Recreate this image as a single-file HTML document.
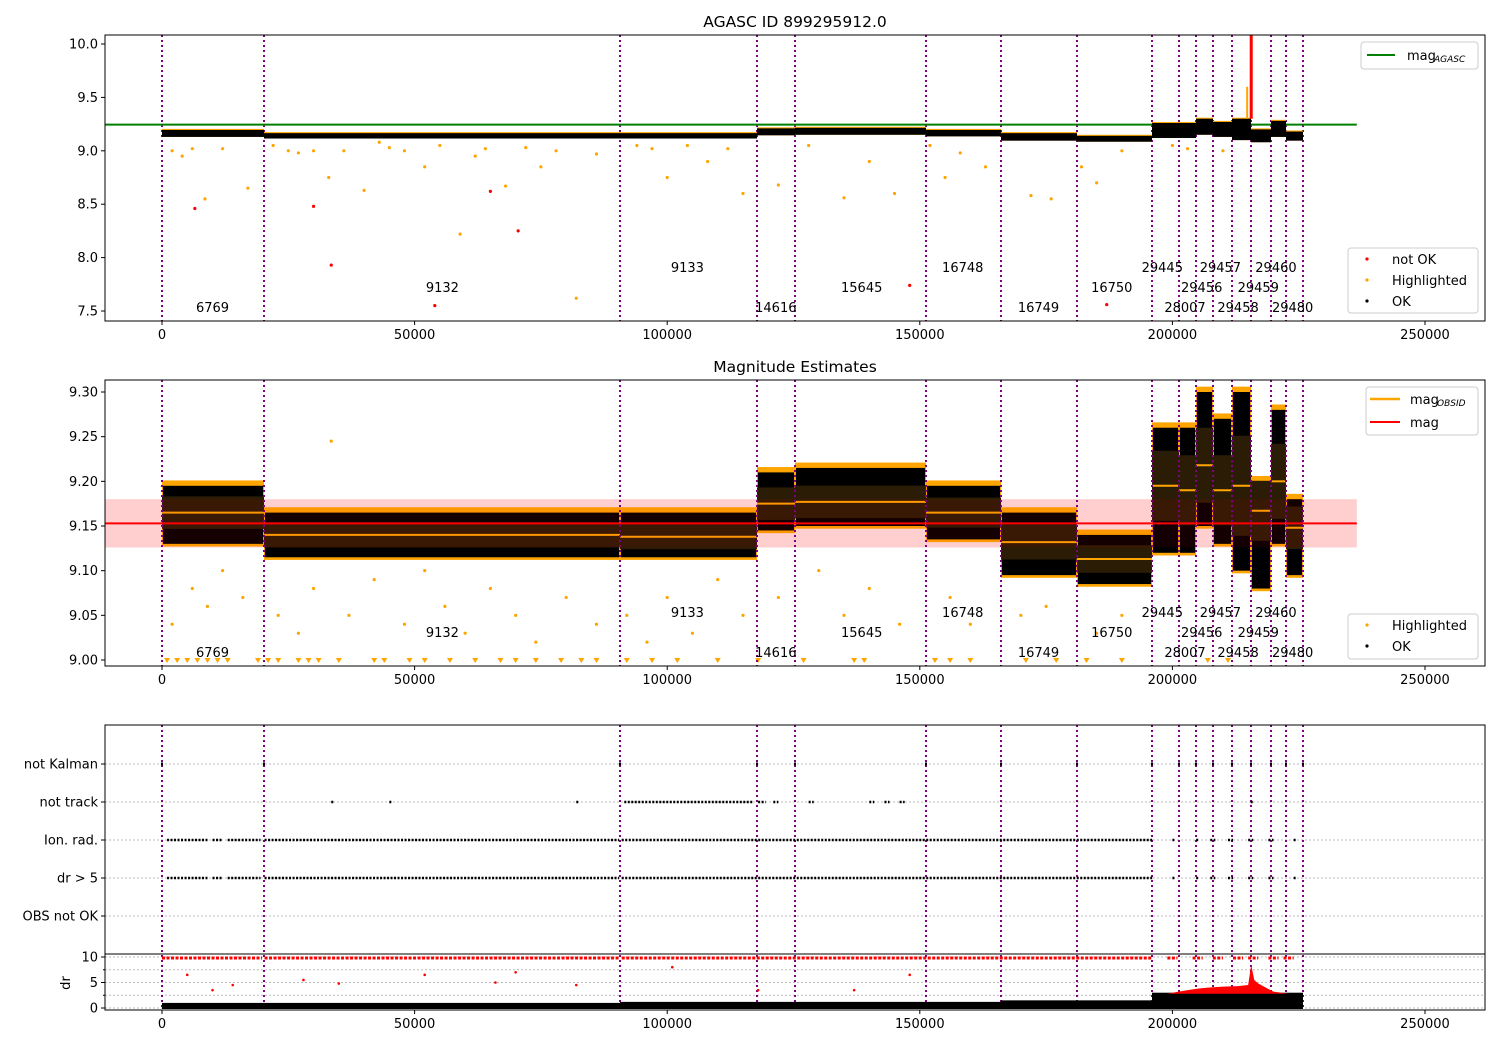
<!DOCTYPE html>
<html><head><meta charset="utf-8"><style>
body{margin:0;background:#fff}
svg{display:block;font-family:"DejaVu Sans","Liberation Sans",sans-serif}
</style></head><body>
<svg id="chart" width="1500" height="1050" viewBox="0 0 1500 1050" xmlns="http://www.w3.org/2000/svg">
<g id="base"></g>
</svg>
<script>
// ---------- data ----------
const obsLines=[0,20190,90657,117775,125297,151227,166072,181116,195962,201306,204671,208036,211797,215558,219516,222486,225851];
const segMeans=[9.165,9.14,9.138,9.175,9.177,9.165,9.132,9.113,9.195,9.19,9.218,9.19,9.195,9.167,9.2,9.148];
const segLo=[9.13,9.115,9.115,9.145,9.15,9.135,9.095,9.085,9.12,9.12,9.15,9.13,9.10,9.08,9.13,9.095];
const segHi=[9.195,9.165,9.165,9.21,9.215,9.195,9.165,9.14,9.26,9.26,9.30,9.27,9.30,9.2,9.28,9.18];
const obsLabels=["6769","9132","9133","14616","15645","16748","16749","16750","29445","28007","29456","29457","29458","29459","29460","29480"];
const labelX=[10000,55500,104000,121500,138500,158500,173500,188000,198000,202500,205800,209500,213000,217000,220500,223800];
const labelRow=[2,1,0,2,1,0,2,1,0,2,1,0,2,1,0,2];
const magAgasc=9.245, magMean=9.153, magLo=9.126, magHi=9.18, lineEnd=236500;
const hl1X=[2000,4000,6000,8500,12000,17000,22000,25000,27000,30000,33000,36000,40000,43000,45000,48000,52000,55000,59000,62000,64000,68000,72000,75000,78000,82000,86000,94000,97000,100000,104000,108000,112000,115000,122000,128000,135000,140000,145000,152000,155000,158000,163000,172000,176000,182000,185000,190000,200000,203000,210000];
const hl1Y=[9.0,8.95,9.02,8.55,9.02,8.65,9.05,9.0,8.98,9.0,8.75,9.0,8.63,9.08,9.03,9.0,8.85,9.05,8.22,8.95,9.02,8.67,9.03,8.85,9.0,7.62,8.97,9.05,9.02,8.75,9.05,8.9,9.02,8.6,8.68,9.05,8.56,8.9,8.6,9.05,8.75,8.98,8.85,8.58,8.55,8.85,8.7,9.0,9.05,9.02,9.0];
const bad1X=[6500,30000,33500,54000,65000,70500,148000,187000];
const bad1Y=[8.46,8.48,7.93,7.55,8.62,8.25,7.74,7.56];
const hl2X=[2000,6000,9000,12000,16000,23000,27000,30000,33500,37000,42000,48000,52000,56000,60000,65000,70000,74000,80000,86000,92000,96000,100000,105000,110000,115000,122000,130000,135000,140000,146000,156000,160000,170000,175000,185000,190000];
const hl2Y=[9.04,9.08,9.06,9.1,9.07,9.05,9.03,9.08,9.245,9.05,9.09,9.04,9.1,9.06,9.03,9.08,9.05,9.02,9.07,9.04,9.05,9.02,9.07,9.03,9.09,9.05,9.07,9.1,9.05,9.08,9.04,9.07,9.04,9.05,9.06,9.03,9.05];
const tri2X=[1000,3000,5000,7000,9000,11000,13000,19000,21000,23000,27000,29000,31000,35000,42000,44000,49000,52000,57000,62000,67000,70000,74000,79000,83000,86000,92000,97000,102000,110000,118000,127000,137000,139000,153000,156000,160000,171000,177000,183000,190000,207000,211000];
const catNames=["not Kalman","not track","Ion. rad.","dr > 5","OBS not OK"];
const trackRanges=[[91500,117000],[33500,33800],[45000,45300],[82000,82300],[118000,119500],[121000,122000],[128000,129000],[140000,141000],[143000,144000],[146000,147000],[215500,215800]];
const ionRanges=[[1000,9000],[10000,12000],[13000,19500],[20300,90500],[91000,196000],[200000,200300],[204700,205000],[207500,208500],[211000,212000],[215000,216000],[219000,220000],[224000,224300]];
const drHiRanges=[[0,19800],[20300,90500],[91000,196000],[199000,201000],[204000,206000],[208000,210000],[212000,214000],[215000,217000],[219000,221000],[222000,224000]];
const drBandStart=[0,20190,90657,117775,166072,195962];
const drBandEnd=[20190,90657,117775,166072,195962,225851];
const drBandTop=[1.0,1.0,1.2,1.2,1.5,3.0];
const drRedX=[200000,203000,205000,207000,210000,213000,215000,215600,216200,217000,220000,223000];
const drRedY=[3.0,3.5,3.8,4.0,4.2,4.3,4.5,8.5,5.5,4.8,3.2,2.8];
const drOutX=[5000,10000,14000,28000,35000,52000,66000,70000,82000,101000,118000,137000,148000];
const drOutY=[6.5,3.5,4.5,5.5,4.8,6.5,5.0,7.0,4.5,8.0,3.5,3.5,6.5];

// ---------- helpers ----------
const NS="http://www.w3.org/2000/svg";
const root=document.getElementById('base');
function el(tag,attrs,parent,txt){const e=document.createElementNS(NS,tag);for(const k in attrs)e.setAttribute(k,attrs[k]);if(txt!==undefined)e.textContent=txt;(parent||root).appendChild(e);return e;}
const X=v=>162+v*0.0050520;
const Y1=v=>44+(10-v)*106.8;
const Y2=v=>392+(9.3-v)*893.3;
const YD=v=>1008-v*5.1;
const CY=[764,802,840,878,916];
const L=105,R=1485;
const panels=[[35,321],[380,666],[725,1010]];

const defs=el('defs',{});
panels.forEach((p,i)=>{const c=el('clipPath',{id:'clip'+i},defs);el('rect',{x:L,y:p[0],width:R-L,height:p[1]-p[0]},c);});

function xAxis(p){
  [0,50000,100000,150000,200000,250000].forEach(t=>{
    el('line',{x1:X(t),x2:X(t),y1:p[1],y2:p[1]+4,stroke:'#000'});
    const tl=el('text',{x:X(t),y:p[1]+18,'text-anchor':'middle','font-size':13},root,String(t));
    
    
  });
}
function yTick(y,label){
  el('line',{x1:L-4,x2:L,y1:y,y2:y,stroke:'#000'});
  const t=el('text',{x:L-7,y:y+4.5,'text-anchor':'end','font-size':13},root,label);
  
  
}
function vlines(g,p){
  obsLines.forEach(v=>{
    const ln=el('line',{x1:X(v),x2:X(v),y1:p[0],y2:p[1],stroke:'#800080','stroke-width':2,'stroke-dasharray':'2,3'},g);
    
    
  });
}
function obsText(g,ys){
  obsLabels.forEach((s,i)=>{
    const t=el('text',{x:X(labelX[i]),y:ys[labelRow[i]],'text-anchor':'middle','font-size':13},g,s);
    
    
  });
}
function frame(p,name){
  const f=el('rect',{x:L,y:p[0],width:R-L,height:p[1]-p[0],fill:'none',stroke:'#000','stroke-width':1});
  
  
}

// ---------- panel 1 ----------
const g1=el('g',{'clip-path':'url(#clip0)'});


vlines(g1,panels[0]);
el('line',{x1:L,x2:X(lineEnd),y1:Y1(magAgasc),y2:Y1(magAgasc),stroke:'#008000','stroke-width':2},g1);
hl1X.forEach((v,i)=>{const c=el('circle',{cx:X(v),cy:Y1(hl1Y[i]),r:1.6,fill:'orange'},g1);});
bad1X.forEach((v,i)=>{const c=el('circle',{cx:X(v),cy:Y1(bad1Y[i]),r:1.6,fill:'red'},g1);});
segMeans.forEach((m,i)=>{
  const x0=X(obsLines[i]),x1=X(obsLines[i+1]);
  const spread=(segHi[i]-segLo[i]);
  el('rect',{x:x0,y:Y1(segHi[i]+0.01),width:x1-x0,height:(spread+0.01)*106.8,fill:'orange'},g1);
  const b=el('rect',{x:x0,y:Y1(segHi[i]),width:x1-x0,height:spread*106.8,fill:'#000'},g1);
  
  
});
el('line',{x1:X(215600),x2:X(215600),y1:Y1(10.1),y2:Y1(9.3),stroke:'red','stroke-width':3},g1);
el('line',{x1:X(214800),x2:X(214800),y1:Y1(9.6),y2:Y1(9.3),stroke:'orange','stroke-width':2},g1);
obsText(g1,[272,292,312]);
frame(panels[0],'agasc-axes');
[7.5,8.0,8.5,9.0,9.5,10.0].forEach(v=>yTick(Y1(v),v.toFixed(1)));
xAxis(panels[0]);
let t=el('text',{x:795,y:27,'text-anchor':'middle','font-size':15.5},root,'AGASC ID 899295912.0');


let lg=el('g',{});
el('rect',{x:1361,y:42,width:117,height:27,rx:3,fill:'#fff',stroke:'#ccc'},lg);
el('line',{x1:1367,x2:1395,y1:55,y2:55,stroke:'#008000','stroke-width':2},lg);
el('text',{x:1407,y:60,'font-size':13},lg,'mag');
el('text',{x:1434,y:62,'font-size':9,'font-style':'italic'},lg,'AGASC');
lg=el('g',{});
el('rect',{x:1348,y:248,width:130,height:65,rx:3,fill:'#fff',stroke:'#ccc'},lg);
[['red','not OK',259],['orange','Highlighted',280],['#000','OK',301]].forEach(a=>{
  el('circle',{cx:1367,cy:a[2],r:1.6,fill:a[0]},lg);
  el('text',{x:1392,y:a[2]+5,'font-size':13},lg,a[1]);
});

// ---------- panel 2 ----------
const g2=el('g',{'clip-path':'url(#clip1)'});


el('rect',{x:L,y:Y2(magHi),width:X(lineEnd)-L,height:(magHi-magLo)*893.3,fill:'#ffe0e0'},g2);
hl2X.forEach((v,i)=>{const c=el('circle',{cx:X(v),cy:Y2(hl2Y[i]),r:1.6,fill:'orange'},g2);});
tri2X.forEach(v=>{const x=X(v),y=Y2(9.0)+1;const p=el('path',{d:`M${x-3},${y-3}L${x+3},${y-3}L${x},${y+2}Z`,fill:'orange'},g2);});
segMeans.forEach((m,i)=>{
  const x0=X(obsLines[i]),x1=X(obsLines[i+1]);
  el('rect',{x:x0,y:Y2(segHi[i]+0.006),width:x1-x0,height:(segHi[i]-segLo[i]+0.009)*893.3,fill:'orange'},g2);
  const b=el('rect',{x:x0+1,y:Y2(segHi[i]),width:x1-x0-2,height:(segHi[i]-segLo[i])*893.3,fill:'#000'},g2);
  
  const sd=(segHi[i]-segLo[i])*0.28;
  el('rect',{x:x0,y:Y2(m+sd),width:x1-x0,height:2*sd*893.3,fill:'#2a1c05'},g2);
  const ml=el('line',{x1:x0,x2:x1,y1:Y2(m),y2:Y2(m),stroke:'orange','stroke-width':2},g2);
  
});
el('rect',{x:L,y:Y2(magHi),width:X(lineEnd)-L,height:(magHi-magLo)*893.3,fill:'rgba(255,0,0,0.08)'},g2);
let ml=el('line',{x1:L,x2:X(lineEnd),y1:Y2(magMean),y2:Y2(magMean),stroke:'red','stroke-width':2},g2);

vlines(g2,panels[1]);
obsText(g2,[617,637,657]);
frame(panels[1],'magnitude-axes');
[9.0,9.05,9.1,9.15,9.2,9.25,9.3].forEach(v=>yTick(Y2(v),v.toFixed(2)));
xAxis(panels[1]);
t=el('text',{x:795,y:372,'text-anchor':'middle','font-size':15.5},root,'Magnitude Estimates');

lg=el('g',{});
el('rect',{x:1366,y:387,width:112,height:48,rx:3,fill:'#fff',stroke:'#ccc'},lg);
el('line',{x1:1370,x2:1400,y1:399,y2:399,stroke:'orange','stroke-width':2.5},lg);
el('text',{x:1410,y:404,'font-size':13},lg,'mag');
el('text',{x:1437,y:406,'font-size':9,'font-style':'italic'},lg,'OBSID');
el('line',{x1:1370,x2:1400,y1:422,y2:422,stroke:'red','stroke-width':2},lg);
el('text',{x:1410,y:427,'font-size':13},lg,'mag');
lg=el('g',{});
el('rect',{x:1348,y:614,width:130,height:45,rx:3,fill:'#fff',stroke:'#ccc'},lg);
[['orange','Highlighted',625],['#000','OK',646]].forEach(a=>{
  el('circle',{cx:1367,cy:a[2],r:1.6,fill:a[0]},lg);
  el('text',{x:1392,y:a[2]+5,'font-size':13},lg,a[1]);
});

// ---------- panel 3 ----------
const g3=el('g',{'clip-path':'url(#clip2)'});


CY.forEach(y=>el('line',{x1:L,x2:R,y1:y,y2:y,stroke:'#bbb','stroke-dasharray':'2,2'},g3));
[0,2.5,5,7.5,10].forEach(v=>el('line',{x1:L,x2:R,y1:YD(v),y2:YD(v),stroke:'#bbb','stroke-dasharray':'2,2'},g3));
vlines(g3,[725,1010]);
obsLines.forEach(v=>{const r=el('rect',{x:X(v)-1,y:CY[0]-1.5,width:2,height:3,fill:'#000'},g3);});
function rangeRow(ranges,y,name){
  ranges.forEach(r=>{
    const ln=el('line',{x1:X(r[0]),x2:Math.max(X(r[1]),X(r[0])+2),y1:y,y2:y,stroke:'#000','stroke-width':2.5,'stroke-dasharray':'2,1.5'},g3);
    
  });
}
rangeRow(trackRanges,CY[1],'not-track-marks');
rangeRow(ionRanges,CY[2],'ion-rad-marks');
rangeRow(ionRanges,CY[3],'dr-gt-5-marks');
el('line',{x1:L,x2:R,y1:954,y2:954,stroke:'#000','stroke-width':1},g3);
drHiRanges.forEach(r=>{const ln=el('line',{x1:X(r[0]),x2:X(r[1]),y1:YD(9.8),y2:YD(9.8),stroke:'red','stroke-width':3,'stroke-dasharray':'3,1.5'},g3);});
drBandStart.forEach((s,i)=>{const r=el('rect',{x:X(s),y:YD(drBandTop[i]),width:X(drBandEnd[i])-X(s),height:drBandTop[i]*5.1+1,fill:'#000'},g3);});
let pts=`M${X(199000)},${YD(2.8)}`;
drRedX.forEach((v,i)=>{pts+=`L${X(v)},${YD(drRedY[i])}`;});
pts+=`L${X(224000)},${YD(2.8)}Z`;
let rp=el('path',{d:pts,fill:'red'},g3);
drOutX.forEach((v,i)=>{const c=el('circle',{cx:X(v),cy:YD(drOutY[i]),r:1.3,fill:'red'},g3);});
frame([725,1010],'flags-axes');
CY.forEach((y,i)=>yTick(y,catNames[i]));
[0,5,10].forEach(v=>yTick(YD(v),String(v)));
[2.5,7.5].forEach(v=>el('line',{x1:L-2,x2:L,y1:YD(v),y2:YD(v),stroke:'#000'}));
t=el('text',{x:70,y:983,'text-anchor':'middle','font-size':13,transform:'rotate(-90 70 983)'},root,'dr');

xAxis([725,1010]);
</script>
</body></html>
